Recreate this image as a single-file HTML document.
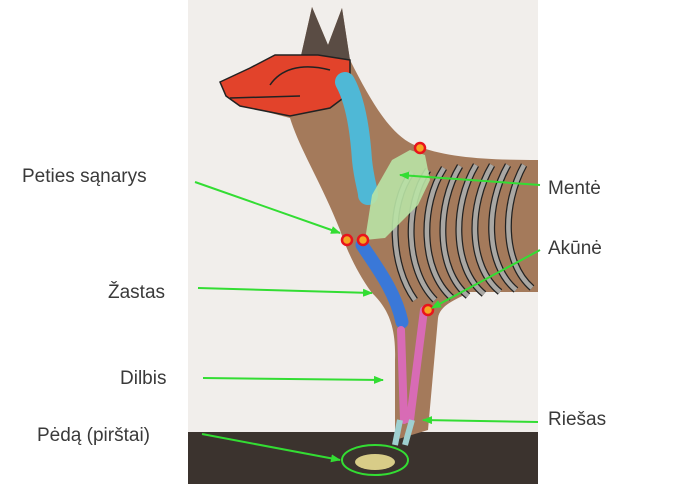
<!DOCTYPE html>
<html><head><meta charset="utf-8"><style>
html,body{margin:0;padding:0;background:#fff;width:700px;height:491px;overflow:hidden}
svg{display:block}
text{font-family:"Liberation Sans",sans-serif;font-size:19px;fill:#3a3a3a}
</style></head><body>
<svg width="700" height="491" viewBox="0 0 700 491" xmlns="http://www.w3.org/2000/svg">
<defs>
<marker id="a" markerWidth="10" markerHeight="8" refX="9" refY="4" orient="auto" markerUnits="userSpaceOnUse">
<path d="M0,0 L10,4 L0,8 z" fill="#33dd33"/></marker>
</defs>
<rect x="188" y="0" width="350" height="432" fill="#f1eeeb"/>
<rect x="188" y="432" width="350" height="52" fill="#3b332e"/>
<path d="M300,60 L312,7 L328,45 L342,8 L350,60 C375,110 395,140 420,147 C450,158 490,160 538,160 L538,292 L470,292 C455,300 440,305 438,318 L428,430 L395,440 L395,360 C396,330 390,310 372,293 C355,270 345,245 340,230 C320,180 300,150 290,118 L240,105 L222,82 Z" fill="#a47a5b"/>
<path d="M300,60 L312,7 L328,45 L342,8 L350,60 Z" fill="#5a4c44"/>
<path d="M220,82 L250,68 L275,55 L318,55 L350,60 L350,93 L330,108 L290,116 L240,106 L226,96 Z" fill="#e2432b" stroke="#222" stroke-width="1.5"/>
<path d="M270,85 C280,70 300,62 330,70 M230,98 L300,96" stroke="#222" stroke-width="1.5" fill="none"/>
<path d="M345,82 C355,100 360,130 362,160 C364,180 368,190 368,195" stroke="#4fb8d6" stroke-width="20" fill="none" stroke-linecap="round"/>
<g fill="none" stroke="#222" stroke-width="7">
<path d="M412,172 C388,205 390,265 415,300"/><path d="M428,170 C404,205 405,270 435,300"/><path d="M444,168 C420,205 420,270 452,298"/><path d="M460,166 C436,205 436,270 468,296"/><path d="M476,165 C452,205 452,268 484,294"/><path d="M492,165 C468,205 468,266 500,292"/><path d="M508,165 C485,205 485,264 516,290"/><path d="M524,165 C502,205 502,262 532,288"/>
</g>
<g fill="none" stroke="#a9a7a3" stroke-width="4.5">
<path d="M412,172 C388,205 390,265 415,300"/><path d="M428,170 C404,205 405,270 435,300"/><path d="M444,168 C420,205 420,270 452,298"/><path d="M460,166 C436,205 436,270 468,296"/><path d="M476,165 C452,205 452,268 484,294"/><path d="M492,165 C468,205 468,266 500,292"/><path d="M508,165 C485,205 485,264 516,290"/><path d="M524,165 C502,205 502,262 532,288"/>
</g>
<path d="M365,240 L372,195 L392,160 L410,150 L425,155 L430,180 L418,205 L385,238 Z" fill="#b9e3a5" opacity="0.9"/>
<path d="M362,245 C375,265 395,290 402,322" stroke="#3a78d8" stroke-width="13" fill="none" stroke-linecap="round"/>
<path d="M401,330 L404,420 M424,310 L410,420" stroke="#d86bb5" stroke-width="8" fill="none" stroke-linecap="round"/>
<path d="M400,420 L395,445 M412,420 L405,445" stroke="#9fd0d0" stroke-width="6" fill="none"/>
<ellipse cx="375" cy="462" rx="20" ry="8" fill="#d8cc88"/>
<g fill="#f5a623" stroke="#e8141c" stroke-width="2.5">
<circle cx="420" cy="148" r="5"/><circle cx="347" cy="240" r="5"/><circle cx="363" cy="240" r="5"/><circle cx="428" cy="310" r="5"/>
</g>
<g stroke="#33dd33" stroke-width="2" fill="none" marker-end="url(#a)">
<line x1="195" y1="182" x2="340" y2="233"/>
<line x1="540" y1="185" x2="400" y2="175"/>
<line x1="540" y1="250" x2="432" y2="308"/>
<line x1="198" y1="288" x2="372" y2="293"/>
<line x1="203" y1="378" x2="383" y2="380"/>
<line x1="538" y1="422" x2="423" y2="420"/>
<line x1="202" y1="434" x2="340" y2="460"/>
</g>
<ellipse cx="375" cy="460" rx="33" ry="15" fill="none" stroke="#33dd33" stroke-width="2"/>
<text x="22" y="182">Peties sąnarys</text>
<text x="108" y="298">Žastas</text>
<text x="120" y="384">Dilbis</text>
<text x="37" y="441">Pėdą (pirštai)</text>
<text x="548" y="194">Mentė</text>
<text x="548" y="254">Akūnė</text>
<text x="548" y="425">Riešas</text>
</svg>
</body></html>
